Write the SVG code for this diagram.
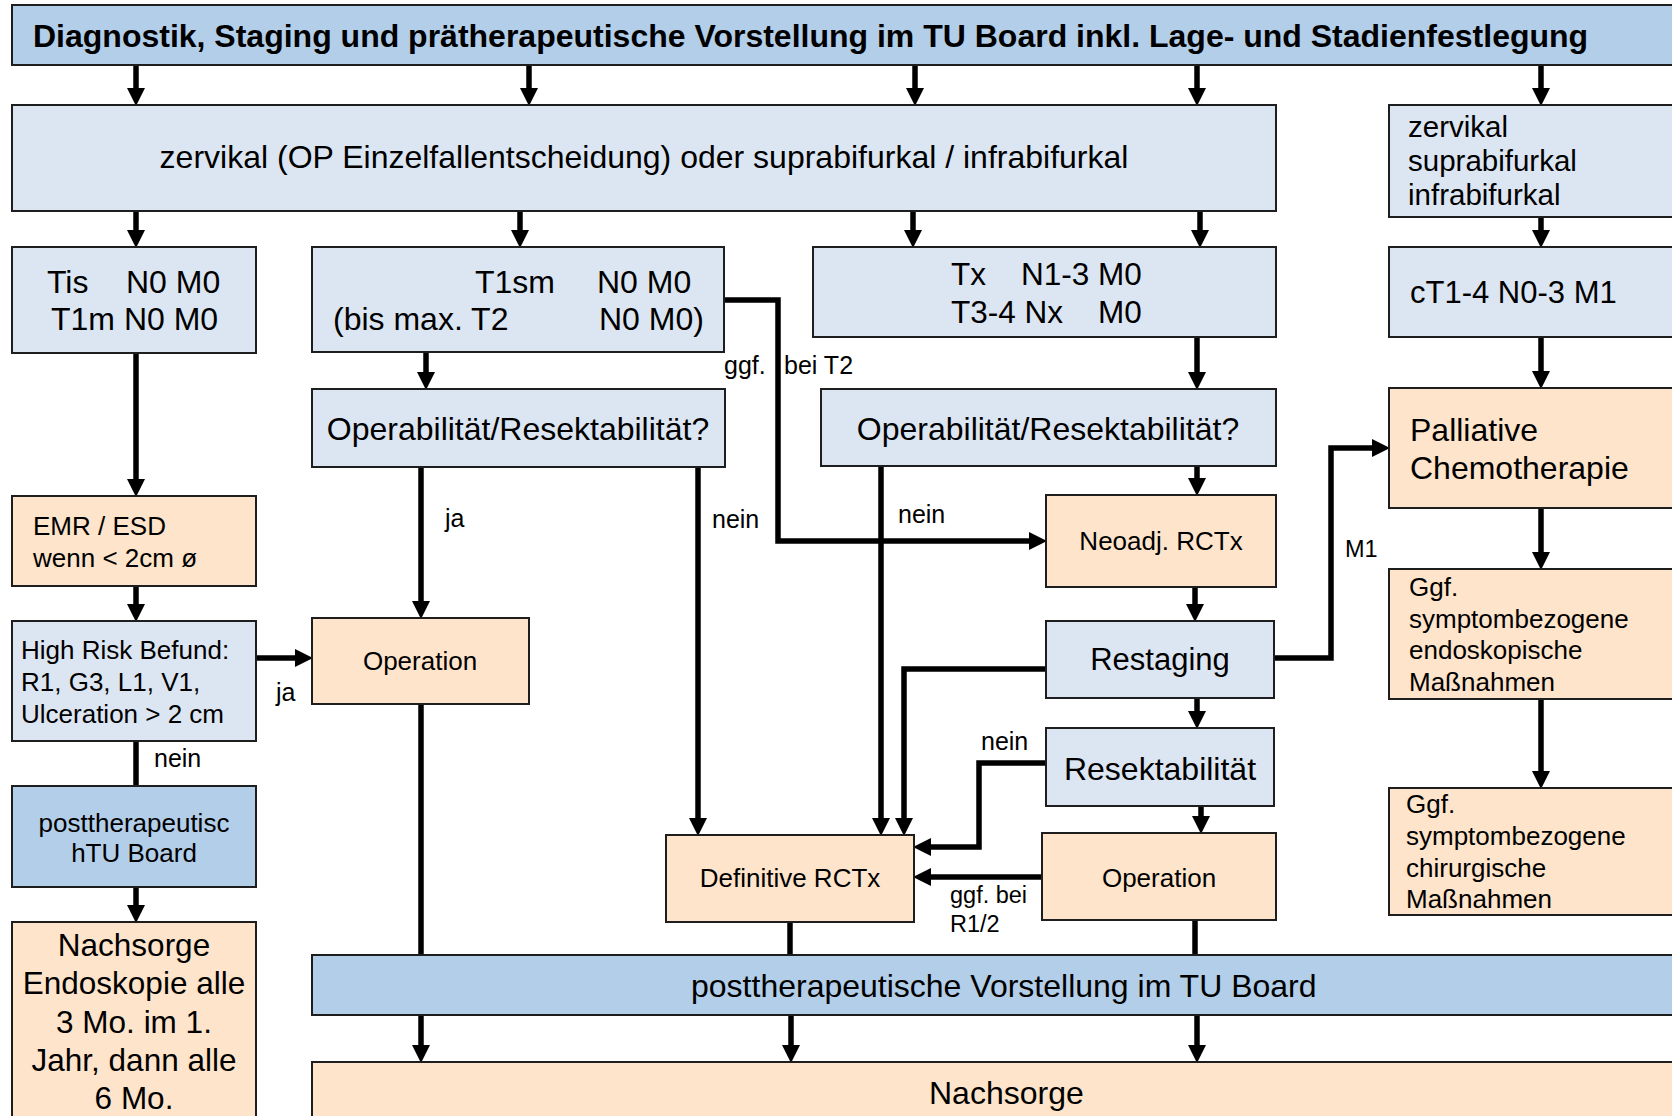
<svg xmlns="http://www.w3.org/2000/svg" width="1672" height="1116" viewBox="0 0 1672 1116">
<style>
.lb{fill:#dce6f2;stroke:#1e1e1e;stroke-width:2}
.mb{fill:#b3cee9;stroke:#1e1e1e;stroke-width:2}
.or{fill:#fee4ca;stroke:#1e1e1e;stroke-width:2}
text{font-family:"Liberation Sans",Arial,sans-serif;fill:#000}
.t32{font-size:32px}
.t31{font-size:31px}
.t26{font-size:26px}
.lbl{font-size:25px}
.lbs{font-size:23.5px}
.c{text-anchor:middle}
.con{fill:none;stroke:#000;stroke-width:5.5;stroke-linejoin:miter}
.arr{marker-end:url(#ah)}
</style>
<defs>
<marker id="ah" markerUnits="userSpaceOnUse" markerWidth="18" markerHeight="18" viewBox="0 0 18 18" refX="0" refY="9" orient="auto">
<path d="M0,0 L18,9 L0,18 z" fill="#000"/>
</marker>
</defs>
<rect width="1672" height="1116" fill="#fff"/>

<g id="connectors">
<path class="con arr" d="M136,65 V88"/>
<path class="con arr" d="M529,65 V88"/>
<path class="con arr" d="M915,65 V88"/>
<path class="con arr" d="M1197,65 V88"/>
<path class="con arr" d="M1541,65 V88"/>
<path class="con arr" d="M136,211 V230"/>
<path class="con arr" d="M520,211 V230"/>
<path class="con arr" d="M913,211 V230"/>
<path class="con arr" d="M1200,211 V230"/>
<path class="con arr" d="M1541,217 V230"/>
<path class="con arr" d="M136,353 V479"/>
<path class="con arr" d="M136,586 V604"/>
<path class="con arr" d="M256,658 H295"/>
<path class="con" d="M136,741 V786"/>
<path class="con arr" d="M136,887 V905"/>
<path class="con arr" d="M426,352 V372"/>
<path class="con arr" d="M421,467 V601"/>
<path class="con arr" d="M698,467 V818"/>
<path class="con arr" d="M724,300 H778 V541 H1029"/>
<path class="con arr" d="M1197,337 V372"/>
<path class="con arr" d="M1197,466 V478"/>
<path class="con arr" d="M881,466 V818"/>
<path class="con arr" d="M1195,587 V604"/>
<path class="con arr" d="M1046,669 H904 V818"/>
<path class="con arr" d="M1274,658 H1331 V448 H1372"/>
<path class="con arr" d="M1197,698 V711"/>
<path class="con arr" d="M1046,763 H979 V847 H931"/>
<path class="con arr" d="M1201,806 V816"/>
<path class="con arr" d="M1042,877 H931"/>
<path class="con arr" d="M1541,337 V371"/>
<path class="con arr" d="M1541,508 V552"/>
<path class="con arr" d="M1541,699 V771"/>
<path class="con" d="M421,704 V955"/>
<path class="con" d="M790,922 V955"/>
<path class="con" d="M1195,920 V955"/>
<path class="con arr" d="M421,1015 V1045"/>
<path class="con arr" d="M791,1015 V1045"/>
<path class="con arr" d="M1197,1015 V1045"/>
</g>

<g id="n-header">
<rect class="mb" x="12" y="5" width="1690" height="60"/>
<text x="33" y="47" style="font-size:32px;font-weight:bold">Diagnostik, Staging und prätherapeutische Vorstellung im TU Board inkl. Lage- und Stadienfestlegung</text>
</g>
<g id="n-lage">
<rect class="lb" x="12" y="105" width="1264" height="106"/>
<text class="t32 c" x="644" y="168">zervikal (OP Einzelfallentscheidung) oder suprabifurkal / infrabifurkal</text>
</g>
<g id="n-lage2">
<rect class="lb" x="1389" y="105" width="300" height="112"/>
<text style="font-size:29.5px" x="1408" y="137">zervikal</text>
<text style="font-size:29.5px" x="1408" y="171">suprabifurkal</text>
<text style="font-size:29.5px" x="1408" y="205">infrabifurkal</text>
</g>
<g id="n-tis">
<rect class="lb" x="12" y="247" width="244" height="106"/>
<text class="t32" y="293"><tspan x="47">Tis</tspan><tspan x="126">N0 M0</tspan></text>
<text class="t32" x="51" y="330">T1m N0 M0</text>
</g>
<g id="n-t1sm">
<rect class="lb" x="312" y="247" width="412" height="105"/>
<text class="t32" y="293"><tspan x="475">T1sm</tspan><tspan x="597">N0 M0</tspan></text>
<text class="t32" y="330"><tspan x="333">(bis max. T2</tspan><tspan x="599">N0 M0)</tspan></text>
</g>
<g id="n-tx">
<rect class="lb" x="813" y="247" width="463" height="90"/>
<text style="font-size:31.5px" y="285"><tspan x="951">Tx</tspan><tspan x="1021">N1-3 M0</tspan></text>
<text style="font-size:31.5px" y="323"><tspan x="951">T3-4 Nx</tspan><tspan x="1098">M0</tspan></text>
</g>
<g id="n-ct">
<rect class="lb" x="1389" y="247" width="300" height="90"/>
<text class="t31" x="1410" y="303">cT1-4 N0-3 M1</text>
</g>
<g id="n-opres1">
<rect class="lb" x="312" y="389" width="413" height="78"/>
<text class="t32 c" x="518" y="440">Operabilität/Resektabilität?</text>
</g>
<g id="n-opres2">
<rect class="lb" x="821" y="389" width="455" height="77"/>
<text class="t32 c" x="1048" y="440">Operabilität/Resektabilität?</text>
</g>
<g id="n-palliativ">
<rect class="or" x="1389" y="388" width="300" height="120"/>
<text class="t32" x="1410" y="441">Palliative</text>
<text class="t32" x="1410" y="479">Chemotherapie</text>
</g>
<g id="n-emr">
<rect class="or" x="12" y="496" width="244" height="90"/>
<text class="t26" x="33" y="535">EMR / ESD</text>
<text class="t26" x="33" y="567">wenn &lt; 2cm ø</text>
</g>
<g id="n-neoadj">
<rect class="or" x="1046" y="495" width="230" height="92"/>
<text class="t26 c" x="1161" y="550">Neoadj. RCTx</text>
</g>
<g id="n-endo">
<rect class="or" x="1389" y="569" width="300" height="130"/>
<text class="t26" x="1409" y="596">Ggf.</text>
<text class="t26" x="1409" y="627.5">symptombezogene</text>
<text class="t26" x="1409" y="659">endoskopische</text>
<text class="t26" x="1409" y="690.5">Maßnahmen</text>
</g>
<g id="n-highrisk">
<rect class="lb" x="12" y="621" width="244" height="120"/>
<text class="t26" x="21" y="659">High Risk Befund:</text>
<text class="t26" x="21" y="691">R1, G3, L1, V1,</text>
<text class="t26" x="21" y="723">Ulceration &gt; 2 cm</text>
</g>
<g id="n-op1">
<rect class="or" x="312" y="618" width="217" height="86"/>
<text class="t26 c" x="420" y="670">Operation</text>
</g>
<g id="n-restaging">
<rect class="lb" x="1046" y="621" width="228" height="77"/>
<text class="t31 c" x="1160" y="670">Restaging</text>
</g>
<g id="n-resekt">
<rect class="lb" x="1046" y="728" width="228" height="78"/>
<text class="t32 c" x="1160" y="780">Resektabilität</text>
</g>
<g id="n-post1">
<rect class="mb" x="12" y="786" width="244" height="101"/>
<text class="t26 c" x="134" y="832">posttherapeutisc</text>
<text class="t26 c" x="134" y="862">hTU Board</text>
</g>
<g id="n-chir">
<rect class="or" x="1389" y="788" width="300" height="127"/>
<text class="t26" x="1406" y="813">Ggf.</text>
<text class="t26" x="1406" y="845">symptombezogene</text>
<text class="t26" x="1406" y="877">chirurgische</text>
<text class="t26" x="1406" y="908">Maßnahmen</text>
</g>
<g id="n-defrctx">
<rect class="or" x="666" y="835" width="248" height="87"/>
<text class="t26 c" x="790" y="887">Definitive RCTx</text>
</g>
<g id="n-op2">
<rect class="or" x="1042" y="833" width="234" height="87"/>
<text class="t26 c" x="1159" y="887">Operation</text>
</g>
<g id="n-nachsorge1">
<rect class="or" x="12" y="922" width="244" height="210"/>
<text style="font-size:31.5px" class="c" x="134" y="956">Nachsorge</text>
<text style="font-size:31.5px" class="c" x="134" y="994">Endoskopie alle</text>
<text style="font-size:31.5px" class="c" x="134" y="1032.5">3 Mo. im 1.</text>
<text style="font-size:31.5px" class="c" x="134" y="1071">Jahr, dann alle</text>
<text style="font-size:31.5px" class="c" x="134" y="1109">6 Mo.</text>
</g>
<g id="n-post2">
<rect class="mb" x="312" y="955" width="1390" height="60"/>
<text class="t32" x="691" y="997">posttherapeutische Vorstellung im TU Board</text>
</g>
<g id="n-nachsorge2">
<rect class="or" x="312" y="1062" width="1390" height="70"/>
<text class="t32" x="929" y="1104">Nachsorge</text>
</g>

<g id="labels">
<text class="lbl" x="724" y="374">ggf.</text>
<text class="lbl" x="784" y="374">bei T2</text>
<text class="lbl" x="445" y="527">ja</text>
<text class="lbl" x="712" y="528">nein</text>
<text class="lbl" x="898" y="523">nein</text>
<text class="lbs" x="1345" y="557">M1</text>
<text class="lbl" x="981" y="750">nein</text>
<text class="lbl" x="276" y="701">ja</text>
<text class="lbl" x="154" y="767">nein</text>
<text class="lbs" x="950" y="903">ggf. bei</text>
<text class="lbs" x="950" y="932">R1/2</text>
</g>
</svg>
